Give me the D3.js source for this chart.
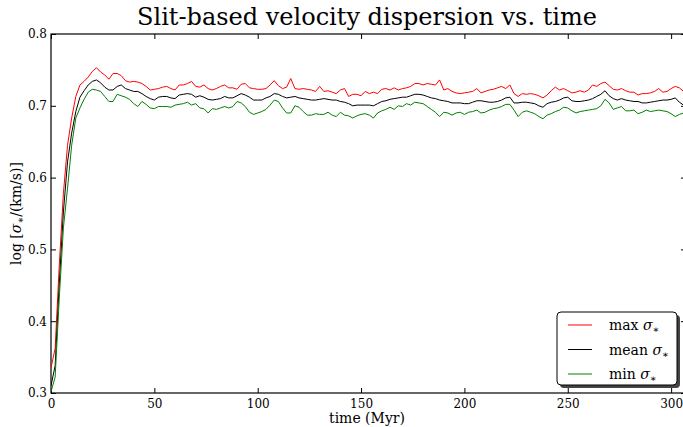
<!DOCTYPE html>
<html>
<head>
<meta charset="utf-8">
<script src="https://cdn.jsdelivr.net/npm/d3@7"></script>
<style>
    body { margin: 0; background: #fff; }
    svg { display: block; }
    text { font-family: "DejaVu Serif", serif; fill: #000; }
</style>
</head>
<body>
<svg id="chart"></svg>
<script>
// time in Myr, sampled every 2 Myr
const times = [0, 2, 4, 6, 8, 10, 12, 14, 16, 18, 20, 22, 24, 26, 28, 30, 32, 34, 36, 38,
    40, 42, 44, 46, 48, 50, 52, 54, 56, 58, 60, 62, 64, 66, 68, 70, 72, 74, 76, 78,
    80, 82, 84, 86, 88, 90, 92, 94, 96, 98, 100, 102, 104, 106, 108, 110, 112, 114, 116, 118,
    120, 122, 124, 126, 128, 130, 132, 134, 136, 138, 140, 142, 144, 146, 148, 150, 152, 154, 156, 158,
    160, 162, 164, 166, 168, 170, 172, 174, 176, 178, 180, 182, 184, 186, 188, 190, 192, 194, 196, 198,
    200, 202, 204, 206, 208, 210, 212, 214, 216, 218, 220, 222, 224, 226, 228, 230, 232, 234, 236, 238,
    240, 242, 244, 246, 248, 250, 252, 254, 256, 258, 260, 262, 264, 266, 268, 270, 272, 274, 276, 278,
    280, 282, 284, 286, 288, 290, 292, 294, 296, 298, 300, 302, 304, 306];

const maxSigma = [0.335, 0.362, 0.478, 0.578, 0.645, 0.683, 0.713, 0.729, 0.734, 0.740, 0.748, 0.753, 0.747, 0.743, 0.737, 0.745, 0.745, 0.742, 0.735, 0.733,
    0.734, 0.733, 0.731, 0.727, 0.722, 0.723, 0.724, 0.726, 0.727, 0.724, 0.722, 0.729, 0.729, 0.731, 0.734, 0.727, 0.726, 0.729, 0.724, 0.722,
    0.724, 0.727, 0.729, 0.725, 0.725, 0.723, 0.730, 0.731, 0.725, 0.724, 0.723, 0.723, 0.724, 0.729, 0.735, 0.728, 0.724, 0.726, 0.738, 0.724,
    0.723, 0.724, 0.723, 0.722, 0.720, 0.727, 0.720, 0.721, 0.719, 0.717, 0.722, 0.724, 0.713, 0.716, 0.716, 0.714, 0.720, 0.717, 0.719, 0.717,
    0.723, 0.724, 0.722, 0.725, 0.722, 0.724, 0.725, 0.727, 0.731, 0.731, 0.729, 0.731, 0.730, 0.729, 0.736, 0.722, 0.724, 0.720, 0.718, 0.717,
    0.718, 0.719, 0.720, 0.724, 0.718, 0.720, 0.722, 0.723, 0.725, 0.727, 0.724, 0.729, 0.717, 0.713, 0.717, 0.716, 0.717, 0.716, 0.714, 0.711,
    0.715, 0.721, 0.726, 0.722, 0.724, 0.721, 0.718, 0.719, 0.721, 0.719, 0.722, 0.729, 0.727, 0.731, 0.733, 0.728, 0.723, 0.722, 0.724, 0.721,
    0.719, 0.719, 0.715, 0.717, 0.717, 0.718, 0.720, 0.724, 0.719, 0.720, 0.724, 0.727, 0.725, 0.720];

const meanSigma = [0.310, 0.338, 0.452, 0.552, 0.622, 0.662, 0.692, 0.712, 0.721, 0.729, 0.734, 0.736, 0.732, 0.726, 0.722, 0.722, 0.727, 0.729, 0.724, 0.722,
    0.720, 0.720, 0.717, 0.713, 0.710, 0.708, 0.712, 0.713, 0.713, 0.711, 0.710, 0.715, 0.716, 0.717, 0.716, 0.712, 0.714, 0.712, 0.709, 0.708,
    0.709, 0.710, 0.713, 0.711, 0.711, 0.714, 0.717, 0.715, 0.712, 0.708, 0.708, 0.708, 0.711, 0.713, 0.717, 0.716, 0.713, 0.711, 0.712, 0.713,
    0.711, 0.710, 0.709, 0.708, 0.708, 0.709, 0.710, 0.709, 0.708, 0.708, 0.706, 0.705, 0.703, 0.700, 0.701, 0.701, 0.701, 0.701, 0.700, 0.703,
    0.706, 0.707, 0.709, 0.710, 0.711, 0.712, 0.712, 0.714, 0.716, 0.716, 0.715, 0.713, 0.711, 0.710, 0.708, 0.707, 0.706, 0.704, 0.704, 0.704,
    0.703, 0.703, 0.705, 0.707, 0.707, 0.706, 0.705, 0.705, 0.706, 0.708, 0.711, 0.712, 0.704, 0.704, 0.705, 0.705, 0.704, 0.703, 0.700, 0.698,
    0.703, 0.705, 0.706, 0.708, 0.711, 0.712, 0.707, 0.706, 0.706, 0.707, 0.708, 0.710, 0.713, 0.716, 0.721, 0.714, 0.710, 0.708, 0.710, 0.708,
    0.707, 0.706, 0.706, 0.704, 0.704, 0.705, 0.706, 0.707, 0.708, 0.708, 0.709, 0.711, 0.705, 0.701];

const minSigma = [0.302, 0.322, 0.432, 0.530, 0.585, 0.645, 0.683, 0.697, 0.709, 0.719, 0.723, 0.722, 0.720, 0.713, 0.706, 0.706, 0.716, 0.714, 0.712, 0.709,
    0.703, 0.699, 0.706, 0.702, 0.697, 0.696, 0.699, 0.699, 0.699, 0.698, 0.701, 0.702, 0.703, 0.705, 0.701, 0.703, 0.697, 0.696, 0.690, 0.696,
    0.695, 0.697, 0.699, 0.697, 0.699, 0.706, 0.704, 0.699, 0.691, 0.688, 0.690, 0.692, 0.695, 0.701, 0.708, 0.706, 0.697, 0.690, 0.690, 0.700,
    0.698, 0.692, 0.687, 0.687, 0.689, 0.688, 0.688, 0.691, 0.687, 0.685, 0.691, 0.687, 0.686, 0.683, 0.686, 0.688, 0.689, 0.687, 0.683, 0.690,
    0.693, 0.695, 0.698, 0.695, 0.700, 0.699, 0.703, 0.701, 0.705, 0.704, 0.703, 0.699, 0.695, 0.691, 0.685, 0.691, 0.690, 0.687, 0.690, 0.691,
    0.688, 0.691, 0.692, 0.694, 0.690, 0.691, 0.694, 0.696, 0.697, 0.699, 0.702, 0.702, 0.694, 0.685, 0.691, 0.693, 0.691, 0.689, 0.685, 0.682,
    0.687, 0.689, 0.692, 0.694, 0.698, 0.697, 0.693, 0.690, 0.692, 0.693, 0.694, 0.695, 0.696, 0.700, 0.709, 0.704, 0.695, 0.697, 0.699, 0.693,
    0.693, 0.694, 0.689, 0.691, 0.694, 0.692, 0.693, 0.694, 0.693, 0.692, 0.689, 0.685, 0.688, 0.690];

const xTicks = [0, 50, 100, 150, 200, 250, 300];
const yTicks = [0.3, 0.4, 0.5, 0.6, 0.7, 0.8];
const seriesLabels = ["max", "mean", "min"];
const seriesColors = ["#ff0000", "#000000", "#008000"];

const width = 683, height = 427;
const margin = {top: 34, right: -3, bottom: 34, left: 51};
const innerW = width - margin.left - margin.right;
const innerH = height - margin.top - margin.bottom;

const svg = d3.select("#chart")
    .attr("width", width)
    .attr("height", height);

const g = svg.append("g")
    .attr("transform", "translate(" + margin.left + "," + margin.top + ")");

const x = d3.scaleLinear().domain([0, 307.2]).range([0, innerW]);
const y = d3.scaleLinear().domain([0.3, 0.8]).range([innerH, 0]);

svg.append("clipPath").attr("id", "plot-clip")
    .append("rect").attr("width", innerW).attr("height", innerH);

// axes, matplotlib style: ticks pointing inwards on all four sides
const tickLen = 5;
const fmtX = d3.format("d");
const fmtY = d3.format(".1f");

g.append("g")
    .attr("class", "x-axis")
    .attr("transform", "translate(0," + innerH + ")")
    .call(d3.axisBottom(x).tickValues(xTicks).tickFormat(fmtX).tickSizeInner(-tickLen).tickSizeOuter(0).tickPadding(6));

g.append("g")
    .call(d3.axisTop(x).tickValues(xTicks).tickFormat("").tickSizeInner(-tickLen).tickSizeOuter(0));

g.append("g")
    .attr("class", "y-axis")
    .call(d3.axisLeft(y).tickValues(yTicks).tickFormat(fmtY).tickSizeInner(-tickLen).tickSizeOuter(0).tickPadding(4));

g.append("g")
    .attr("transform", "translate(" + innerW + ",0)")
    .call(d3.axisRight(y).tickValues(yTicks).tickFormat("").tickSizeInner(-tickLen).tickSizeOuter(0));

g.selectAll(".domain").remove();
g.selectAll(".tick line").attr("stroke", "#000");
g.selectAll(".tick text")
    .style("font-size", "12px")
    .style("font-family", "'DejaVu Serif', serif")
    .attr("fill", "#222");

// frame
g.append("rect")
    .attr("width", innerW)
    .attr("height", innerH)
    .attr("fill", "none")
    .attr("stroke", "#000")
    .attr("stroke-width", 1.2);

// lines
const series = [maxSigma, meanSigma, minSigma];
const line = d3.line()
    .x((d, i) => x(times[i]))
    .y(d => y(d));

g.append("g")
    .attr("clip-path", "url(#plot-clip)")
    .selectAll("path")
    .data(series)
    .enter().append("path")
    .attr("d", line)
    .attr("fill", "none")
    .attr("stroke", (d, i) => seriesColors[i])
    .attr("stroke-width", 1)
    .attr("stroke-linejoin", "round");

// title and axis labels
svg.append("text")
    .attr("x", 367)
    .attr("y", 25)
    .attr("text-anchor", "middle")
    .style("font-size", "24px")
    .text("Slit-based velocity dispersion vs. time");

svg.append("text")
    .attr("x", 367)
    .attr("y", 423)
    .attr("text-anchor", "middle")
    .style("font-size", "14px")
    .text("time (Myr)");

const yLabel = svg.append("text")
    .attr("transform", "translate(21," + (margin.top + innerH / 2) + ") rotate(-90)")
    .attr("text-anchor", "middle")
    .style("font-size", "14px");
yLabel.append("tspan").text("log [");
yLabel.append("tspan").style("font-style", "italic").text("σ");
yLabel.append("tspan").attr("dy", 3).style("font-size", "10px").text("∗");
yLabel.append("tspan").attr("dy", -3).text("/(km/s)]");

// legend
const legend = svg.append("g").attr("transform", "translate(557,312)");
legend.append("rect")
    .attr("x", 3).attr("y", 3)
    .attr("width", 120).attr("height", 73)
    .attr("rx", 4)
    .attr("fill", "#444");
legend.append("rect")
    .attr("width", 120).attr("height", 73)
    .attr("rx", 4)
    .attr("fill", "#fff")
    .attr("stroke", "#000")
    .attr("stroke-width", 1);

const entry = legend.selectAll("g.entry")
    .data(seriesLabels)
    .enter().append("g")
    .attr("class", "entry")
    .attr("transform", (d, i) => "translate(0," + (13 + i * 24.5) + ")");

entry.append("line")
    .attr("x1", 11).attr("x2", 35)
    .attr("stroke", (d, i) => seriesColors[i])
    .attr("stroke-width", 1);

const label = entry.append("text")
    .attr("x", 52)
    .attr("y", 5)
    .style("font-size", "14px");
label.append("tspan").text(d => d + " ");
label.append("tspan").style("font-style", "italic").text("σ");
label.append("tspan").attr("dy", 3).style("font-size", "10px").text("∗");
</script>
</body>
</html>
